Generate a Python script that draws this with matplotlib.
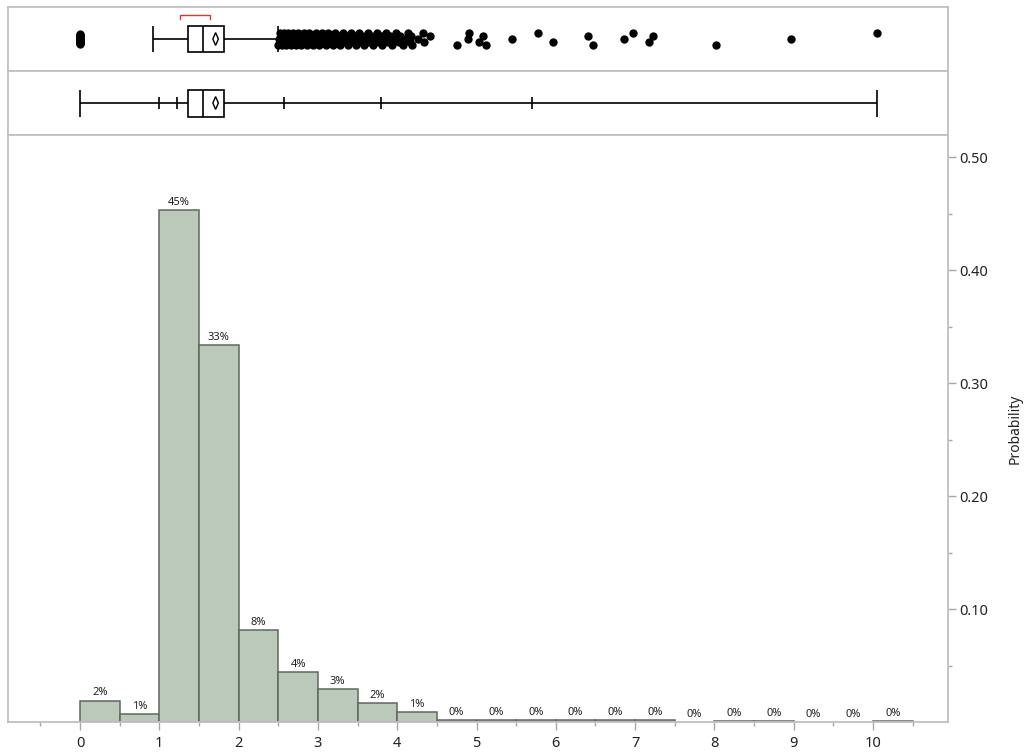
import numpy as np
import matplotlib
matplotlib.use('Agg')
from matplotlib import pyplot as plt
from matplotlib.patches import Rectangle, Polygon

plt.rcParams['font.family'] = ['Noto Sans', 'DejaVu Sans']

# histogram: left edge of each 0.5-wide bin and its share of rows
bin_starts = [0.0, 0.5, 1.0, 1.5, 2.0, 2.5, 3.0, 3.5, 4.0, 4.5, 5.0,
              5.5, 6.0, 6.5, 7.0, 7.5, 8.0, 8.5, 9.0, 9.5, 10.0]
probs = [0.019, 0.007, 0.453, 0.334, 0.081, 0.044, 0.029, 0.017, 0.009,
         0.002, 0.002, 0.002, 0.002, 0.002, 0.002, 0.0, 0.001, 0.001,
         0.0, 0.0, 0.001]
bin_width = 0.5

# outlier box plot summary
q1, median, q3 = 1.36, 1.55, 1.81
whisker_lo, whisker_hi = 0.92, 2.50
mean_val, mean_ci = 1.71, 0.035
shortest_half = (1.26, 1.64)

zero_points = [0.0] * 16
dense_points = [2.50, 2.51, 2.52, 2.53, 2.54, 2.55, 2.56, 2.57, 2.58, 2.59,
                2.60, 2.61, 2.62, 2.63, 2.65, 2.66, 2.67, 2.68, 2.70, 2.71,
                2.72, 2.74, 2.75, 2.76, 2.78, 2.79, 2.80, 2.82, 2.83, 2.85,
                2.86, 2.88, 2.89, 2.91, 2.92, 2.94, 2.95, 2.97, 2.98, 3.00,
                3.02, 3.03, 3.05, 3.07, 3.08, 3.10, 3.12, 3.13, 3.15, 3.17,
                3.19, 3.21, 3.22, 3.24, 3.26, 3.28, 3.30, 3.32, 3.34, 3.36,
                3.38, 3.40, 3.42, 3.44, 3.46, 3.48, 3.50, 3.52, 3.54, 3.56,
                3.58, 3.61, 3.63, 3.65, 3.67, 3.70, 3.72, 3.74, 3.77, 3.79,
                3.81, 3.84, 3.86, 3.89, 3.91, 3.94, 3.96, 3.99, 4.02, 4.04,
                4.07, 4.10, 4.13, 4.16, 4.18, 4.19, 4.26, 4.33, 4.34, 4.41]
far_points = [4.76, 4.89, 4.91, 5.03, 5.08, 5.12, 5.45, 5.77, 5.96, 6.40,
              6.47, 6.86, 6.97, 7.17, 7.23, 8.02, 8.97, 10.05]

# quantile box plot
q_min, q_max = 0.0, 10.05
quantile_marks = [1.00, 1.22, 2.57, 3.80, 5.70]

W, H = 1028, 755
fig = plt.figure(figsize=(W / 100, H / 100), dpi=100)
left, right = 8, 948
xlo = (left - 80) / 79.3
xhi = (right - 80) / 79.3
grey = '#c0c0c0'


def panel(top_px, bottom_px):
    a = fig.add_axes([left / W, 1 - bottom_px / H, (right - left) / W,
                      (bottom_px - top_px) / H])
    a.set_xlim(xlo, xhi)
    for s in a.spines.values():
        s.set_color(grey)
        s.set_linewidth(1.3)
    return a


ax_top = panel(7, 71)
ax_mid = panel(71, 135)
ax = panel(135, 722)

for a in (ax_top, ax_mid):
    a.set_ylim(0, 1)
    a.set_xticks([])
    a.set_yticks([])

# --- outlier box plot ---
lw = 1.2
ax_top.hlines(0.5, whisker_lo, q1, color='k', lw=lw)
ax_top.hlines(0.5, q3, whisker_hi, color='k', lw=lw)
ax_top.vlines([whisker_lo, whisker_hi], 0.30, 0.70, color='k', lw=lw)
ax_top.add_patch(Rectangle((q1, 0.30), q3 - q1, 0.40, fill=False, ec='k', lw=lw))
ax_top.vlines(median, 0.30, 0.70, color='k', lw=lw)
ax_top.add_patch(Polygon([(mean_val - mean_ci, 0.5), (mean_val, 0.6),
                          (mean_val + mean_ci, 0.5), (mean_val, 0.4)],
                         fill=False, ec='k', lw=1))
a_, b_ = shortest_half
ax_top.plot([a_, a_, b_, b_], [0.82, 0.875, 0.875, 0.82], color='#e8312f', lw=1)

# points jittered vertically in a fixed repeating pattern
jit = [-0.09, 0.0, 0.09, -0.045, 0.045]
zy = 0.5 + np.linspace(-0.08, 0.08, len(zero_points))
ax_top.scatter(zero_points, zy, s=36, color='k', zorder=3, lw=0)
rest = dense_points + far_points
ry = [0.5 + jit[i % len(jit)] for i in range(len(rest))]
ax_top.scatter(rest, ry, s=36, color='k', zorder=3, lw=0)

# --- quantile box plot ---
ax_mid.hlines(0.5, q_min, q1, color='k', lw=lw)
ax_mid.hlines(0.5, q3, q_max, color='k', lw=lw)
ax_mid.vlines([q_min, q_max], 0.28, 0.70, color='k', lw=lw)
ax_mid.vlines(quantile_marks, 0.40, 0.60, color='k', lw=lw)
ax_mid.add_patch(Rectangle((q1, 0.28), q3 - q1, 0.42, fill=False, ec='k', lw=lw))
ax_mid.vlines(median, 0.28, 0.70, color='k', lw=lw)
ax_mid.add_patch(Polygon([(mean_val - mean_ci, 0.5), (mean_val, 0.6),
                          (mean_val + mean_ci, 0.5), (mean_val, 0.4)],
                         fill=False, ec='k', lw=1))

# --- histogram ---
for s, p in zip(bin_starts, probs):
    if p > 0:
        ax.bar(s, p, width=bin_width, align='edge', color='#bac9ba',
               edgecolor='#5f675f', linewidth=1.1)
    ax.annotate(f'{p * 100:.0f}%', (s + bin_width / 2, p), xytext=(0, 1.5),
                textcoords='offset points', ha='center', va='bottom',
                fontsize=8, color='#222222')

ax.set_ylim(0, 0.5195)
ax.set_xticks(range(0, 11))
ax.set_xticks([x + 0.5 for x in range(-1, 11)], minor=True)
ax.set_yticks([0.1, 0.2, 0.3, 0.4, 0.5])
ax.set_yticklabels(['0.10', '0.20', '0.30', '0.40', '0.50'])
ax.set_yticks([0.05, 0.15, 0.25, 0.35, 0.45], minor=True)
ax.yaxis.tick_right()
ax.yaxis.set_label_position('right')
ax.tick_params(which='major', length=6, width=1, color='#a8a8a8',
               labelsize=10.5, labelcolor='#222222', pad=2)
ax.tick_params(which='minor', length=3, width=1, color='#a8a8a8')
ax.tick_params(axis='x', pad=4)
ax.set_ylabel('Probability', fontsize=10, color='#222222', labelpad=14)

fig.savefig('out.png', dpi=100)
